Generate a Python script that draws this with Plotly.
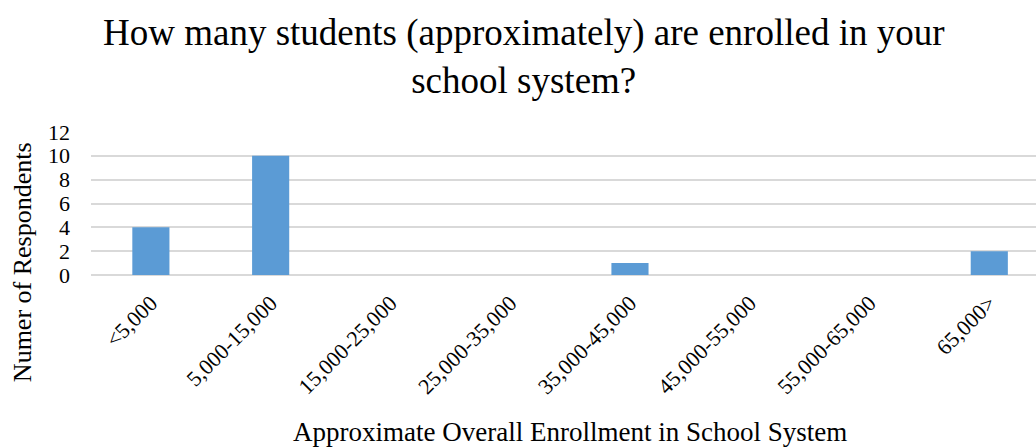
import plotly.graph_objects as go

categories = ["<5,000", "5,000-15,000", "15,000-25,000", "25,000-35,000",
              "35,000-45,000", "45,000-55,000", "55,000-65,000", "65,000>"]
values = [4, 10, 0, 0, 1, 0, 0, 2]
y_ticks = [0, 2, 4, 6, 8, 10, 12]

FONT = "Liberation Serif, Times New Roman, serif"

fig = go.Figure()
fig.add_trace(go.Bar(x=list(range(len(categories))), y=values,
                     marker=dict(color="#5B9BD5", line=dict(width=0)),
                     width=0.31))

fig.update_layout(
    width=1036, height=447,
    margin=dict(l=91, r=0, t=132, b=172),
    paper_bgcolor="white", plot_bgcolor="white",
    showlegend=False,
    font=dict(family=FONT, color="black"),
    xaxis=dict(tickmode="array", tickvals=list(range(len(categories))), ticktext=categories,
               range=[-0.5, 7.39], tickangle=-45, showgrid=False, zeroline=False,
               showline=False, ticks="", tickfont=dict(size=22, family=FONT),
               ticklabelstandoff=10),
    yaxis=dict(range=[0, 12], tickvals=y_ticks, showgrid=True, gridcolor="#d9d9d9",
               gridwidth=2, zeroline=True, zerolinecolor="#d9d9d9", zerolinewidth=2,
               ticks="", showticklabels=False),
)
for v in y_ticks:
    fig.add_annotation(text=str(v), xref="paper", yref="y", x=0, y=v,
                       xanchor="right", yanchor="middle", xshift=-19, showarrow=False,
                       font=dict(size=22, family=FONT))
fig.add_annotation(text="How many students (approximately) are enrolled in your<br>school system?",
                   xref="paper", yref="paper", x=0.458, y=(275 - 56) / 143, yanchor="middle",
                   xanchor="center", showarrow=False,
                   font=dict(size=37, family=FONT))
fig.add_annotation(text="Approximate Overall Enrollment in School System",
                   xref="paper", yref="paper", x=0.507, y=-1.1, yanchor="middle",
                   showarrow=False, font=dict(size=27, family=FONT))
fig.add_annotation(text="Numer of Respondents", textangle=-90,
                   xref="paper", yref="paper", x=-0.073, y=0.09, xanchor="center",
                   yanchor="middle",
                   showarrow=False, font=dict(size=26, family=FONT))
fig.write_html("out.html")
